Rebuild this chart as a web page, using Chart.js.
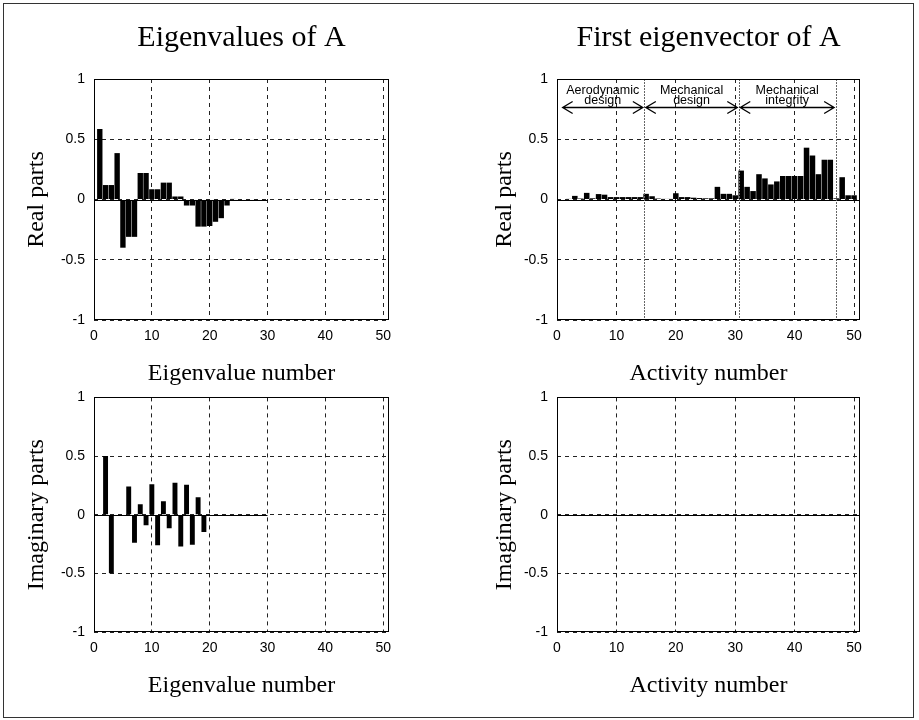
<!DOCTYPE html>
<html>
<head>
<meta charset="utf-8">
<title>Eigenvalues and first eigenvector of A</title>
<script src="https://cdn.jsdelivr.net/npm/chart.js@4.4.1/dist/chart.umd.min.js"></script>
<style>
  html, body { margin: 0; padding: 0; background: #fff; overflow: hidden; }
  #fig { position: relative; width: 919px; height: 720px; background: #fff; }
  #frame { position: absolute; left: 3px; top: 3px; width: 911px; height: 715px;
           border: 1px solid #333; box-sizing: border-box; }
  canvas { position: absolute; }
</style>
</head>
<body>
<div id="fig">
  <div id="frame"></div>
  <canvas id="evReal"  width="395" height="386" style="left:14px;top:0px"></canvas>
  <canvas id="vecReal" width="403" height="386" style="left:477px;top:0px"></canvas>
  <canvas id="evImag"  width="395" height="318" style="left:14px;top:380px"></canvas>
  <canvas id="vecImag" width="403" height="318" style="left:477px;top:380px"></canvas>
</div>
<script>
// ---- data ----------------------------------------------------------------
// index 1..50 (eigenvalue number / activity number)
const indexNumbers = Array.from({ length: 50 }, (_, i) => i + 1);

// real parts of the eigenvalues of A
const eigenReal = [
  0.585, 0.12, 0.12, 0.385, -0.40, -0.31, -0.31, 0.22, 0.22, 0.085,
  0.085, 0.14, 0.14, 0.025, 0.025, -0.05, -0.05, -0.225, -0.225, -0.22,
  -0.185, -0.155, -0.05, 0.005, 0, 0, 0, 0, 0, 0,
  0, 0, 0, 0, 0, 0, 0, 0, 0, 0,
  0, 0, 0, 0, 0, 0, 0, 0, 0, 0
];

// imaginary parts of the eigenvalues of A (conjugate pairs)
const eigenImag = [
  0, 0.5, -0.5, 0, 0, 0.24, -0.24, 0.09, -0.09, 0.26,
  -0.26, 0.115, -0.115, 0.272, -0.272, 0.256, -0.256, 0.148, -0.148, 0,
  0, 0, 0, 0, 0, 0, 0, 0, 0, 0,
  0, 0, 0, 0, 0, 0, 0, 0, 0, 0,
  0, 0, 0, 0, 0, 0, 0, 0, 0, 0
];

// real parts of the first eigenvector of A
const vectorReal = [
  0, 0.005, 0.03, 0.008, 0.055, 0.01, 0.045, 0.04, 0.02, 0.02,
  0.02, 0.02, 0.02, 0.02, 0.047, 0.027, 0.008, 0.005, 0.005, 0.052,
  0.02, 0.02, 0.015, 0.012, 0.01, 0.01, 0.105, 0.047, 0.047, 0.035,
  0.24, 0.105, 0.07, 0.21, 0.175, 0.125, 0.15, 0.195, 0.195, 0.195,
  0.195, 0.43, 0.365, 0.21, 0.33, 0.33, 0.01, 0.185, 0.035, 0.035
];

// imaginary parts of the first eigenvector of A
const vectorImag = [
  0, 0, 0, 0, 0, 0, 0, 0, 0, 0,
  0, 0, 0, 0, 0, 0, 0, 0, 0, 0,
  0, 0, 0, 0, 0, 0, 0, 0, 0, 0,
  0, 0, 0, 0, 0, 0, 0, 0, 0, 0,
  0, 0, 0, 0, 0, 0, 0, 0, 0, 0
];

// axis ticks
const xTicks = [0, 10, 20, 30, 40, 50];
const yTicks = [-1, -0.5, 0, 0.5, 1];
const yTickLabels = ['-1', '-0.5', '0', '0.5', '1'];

// activity groups of the design process
const groupNames = [
  ['Aerodynamic', 'design'],
  ['Mechanical', 'design'],
  ['Mechanical', 'integrity']
];
const groupStarts = [0.7, 14.7, 30.6];
const groupEnds = [14.7, 30.6, 46.9];

// ---- drawing helpers -----------------------------------------------------
const SERIF = "'Liberation Serif', 'Times New Roman', serif";
const SANS = "'Liberation Sans', Arial, Helvetica, sans-serif";

// box, solid zero baseline and (optionally) the activity-group annotations
const panelDecor = {
  id: 'panelDecor',
  afterDatasetsDraw(chart, args, opts) {
    const { ctx, chartArea: a, scales: { x, y } } = chart;
    ctx.save();
    ctx.setLineDash([]);

    // zero baseline
    const y0 = Math.round(y.getPixelForValue(0)) + 0.5;
    ctx.strokeStyle = '#000';
    ctx.lineWidth = 1;
    ctx.beginPath();
    ctx.moveTo(x.getPixelForValue(0), y0);
    ctx.lineTo(x.getPixelForValue(opts.zeroTo), y0);
    ctx.stroke();

    if (opts.groups) {
      const g = opts.groups;
      // group boundaries
      ctx.strokeStyle = '#666';
      ctx.setLineDash([2, 1]);
      g.ends.forEach(v => {
        const px = Math.round(x.getPixelForValue(v)) + 0.5;
        ctx.beginPath();
        ctx.moveTo(px, a.top);
        ctx.lineTo(px, a.bottom);
        ctx.stroke();
      });
      ctx.setLineDash([]);

      const ay = Math.round(y.getPixelForValue(g.arrowAt)) + 0.5;
      ctx.strokeStyle = '#000';
      ctx.fillStyle = '#000';
      ctx.lineWidth = 1.3;
      ctx.font = '12.5px ' + SANS;
      ctx.textAlign = 'center';
      ctx.textBaseline = 'alphabetic';
      g.names.forEach((lines, i) => {
        const xa = x.getPixelForValue(g.starts[i] + g.inset);
        const xb = x.getPixelForValue(g.ends[i] - g.inset);
        // double-headed arrow
        ctx.beginPath();
        ctx.moveTo(xa, ay); ctx.lineTo(xb, ay);
        ctx.moveTo(xa + 10, ay - 6); ctx.lineTo(xa, ay); ctx.lineTo(xa + 10, ay + 6);
        ctx.moveTo(xb - 10, ay - 6); ctx.lineTo(xb, ay); ctx.lineTo(xb - 10, ay + 6);
        ctx.stroke();
        const xc = (xa + xb) / 2;
        ctx.fillText(lines[0], xc, ay - 13.5);
        ctx.fillText(lines[1], xc, ay - 4);
      });
    }

    // plot box
    ctx.strokeStyle = '#000';
    ctx.lineWidth = 1;
    ctx.strokeRect(Math.round(a.left) + 0.5, Math.round(a.top) + 0.5,
                   Math.round(a.right - a.left) - 1, Math.round(a.bottom - a.top) - 1);
    ctx.restore();
  }
};

function makePanel(id, cfg) {
  const points = indexNumbers.map((n, i) => ({ x: n, y: cfg.values[i] }));
  return new Chart(document.getElementById(id), {
    type: 'bar',
    data: {
      datasets: [{
        data: points,
        backgroundColor: '#000',
        borderWidth: 0,
        barPercentage: cfg.barPct,
        categoryPercentage: 1
      }]
    },
    options: {
      responsive: false,
      animation: false,
      events: [],
      layout: { padding: { left: 0, right: 20, top: cfg.padTop, bottom: 0 } },
      plugins: {
        legend: { display: false },
        tooltip: { enabled: false },
        title: {
          display: !!cfg.title,
          text: cfg.title || '',
          fullSize: false,
          color: '#000',
          font: { family: SERIF, size: 30, weight: 'normal', lineHeight: 1 },
          padding: { top: 23, bottom: 26 }
        },
        panelDecor: { zeroTo: cfg.zeroTo, groups: cfg.groups || null }
      },
      scales: {
        x: {
          type: 'linear',
          min: 0,
          max: 51,
          offset: false,
          afterBuildTicks: s => { s.ticks = xTicks.map(v => ({ value: v })); },
          afterFit: s => { s.height = 66; },
          grid: { offset: false, color: '#222', lineWidth: 1, drawTicks: false },
          border: { display: false, dash: [4, 4] },
          ticks: {
            color: '#000', padding: 8, maxRotation: 0,
            font: { family: SANS, size: 14 },
            callback: v => String(v)
          },
          title: {
            display: true, text: cfg.xTitle, color: '#000',
            font: { family: SERIF, size: 24, weight: 'normal', lineHeight: 1 },
            padding: { top: 0, bottom: 0 }
          }
        },
        y: {
          min: -1,
          max: 1,
          afterBuildTicks: s => { s.ticks = yTicks.map(v => ({ value: v })); },
          afterFit: s => { s.width = 80; },
          grid: { color: '#222', lineWidth: 1, drawTicks: false },
          border: { display: false, dash: [4, 4] },
          ticks: {
            color: '#000', padding: 9,
            font: { family: SANS, size: 14 },
            callback: v => yTickLabels[yTicks.indexOf(v)]
          },
          title: {
            display: true, text: cfg.yTitle, color: '#000',
            font: { family: SERIF, size: 24, weight: 'normal', lineHeight: 1 },
            padding: { top: cfg.yTitlePad, bottom: 0 }
          }
        }
      }
    },
    plugins: [panelDecor]
  });
}

makePanel('evReal', {
  values: eigenReal, barPct: 0.93, padTop: 0, title: 'Eigenvalues of A',
  xTitle: 'Eigenvalue number', yTitle: 'Real parts', yTitlePad: 11, zeroTo: 30
});
makePanel('vecReal', {
  values: vectorReal, barPct: 0.93, padTop: 0, title: 'First eigenvector of A',
  xTitle: 'Activity number', yTitle: 'Real parts', yTitlePad: 16, zeroTo: 51,
  groups: { names: groupNames, starts: groupStarts, ends: groupEnds, arrowAt: 0.765, inset: 0.25 }
});
makePanel('evImag', {
  values: eigenImag, barPct: 0.85, padTop: 12,
  xTitle: 'Eigenvalue number', yTitle: 'Imaginary parts', yTitlePad: 11, zeroTo: 30
});
makePanel('vecImag', {
  values: vectorImag, barPct: 0.93, padTop: 12,
  xTitle: 'Activity number', yTitle: 'Imaginary parts', yTitlePad: 16, zeroTo: 51
});
</script>
</body>
</html>
